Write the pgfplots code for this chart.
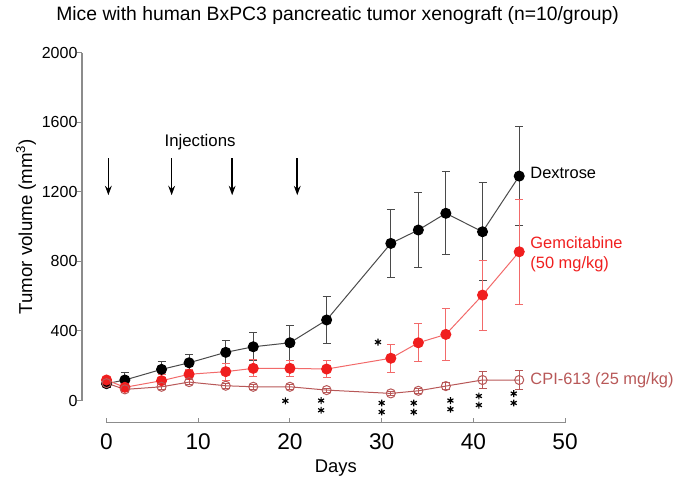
\documentclass[border=0pt]{standalone}
\usepackage{fontspec}
\setmainfont{Liberation Sans}
\usepackage{pgfplots}
\pgfplotsset{compat=1.18}
\usetikzlibrary{arrows.meta}

\definecolor{dexline}{HTML}{4A4A4A}
\definecolor{gemred}{HTML}{F01E1E}
\definecolor{gemline}{HTML}{F26A6A}
\definecolor{cpi}{HTML}{B85858}
\definecolor{spine}{HTML}{8C8C8C}

% day, mean, sem
\pgfplotstableread{
x y e
0 97 20
2 118 42
6 179 48
9 217 48
13 277 67
16 309 81
20 332 100
24 463 134
31 903 196
34 980 217
37 1076 239
41 970 282
45 1290 283
}\dextrose
\pgfplotstableread{
x y e
0 118 15
2 76 15
6 114 33
9 151 30
13 166 48
16 185 48
20 185 44
24 181 48
31 243 80
34 332 109
37 380 150
41 606 201
45 855 301
}\gemcitabine
\pgfplotstableread{
x y e
0 100 12
2 64 12
6 79 15
9 106 15
13 85 15
16 79 15
20 79 15
24 60 12
31 41 12
34 56 14
37 83 22
41 118 48
45 118 53
}\cpi

\begin{document}
\begin{tikzpicture}
\useasboundingbox (-79.9pt,-58.1pt) rectangle (433.1pt,300.4pt);
% detached spines (axis box: 343.9pt x 261pt, origin at 0,0)
\draw[spine, line width=0.8pt] (0,-16.5pt) -- (343.9pt,-16.5pt);
\foreach \i in {0,...,5}
  \draw[spine, line width=0.8pt] (\i*68.78pt,-16.5pt) -- ++(0,3.5pt);
\draw[spine, line width=0.8pt] (-18.4pt,0) -- (-18.4pt,261pt);
\foreach \i in {0,...,5}
  \draw[spine, line width=0.8pt] (-18.4pt,\i*52.2pt) -- ++(-3.5pt,0);
\begin{axis}[
  scale only axis,
  width=343.9pt, height=261pt,
  xmin=0, xmax=50, ymin=0, ymax=2000,
  axis x line*=bottom, axis y line*=left,
  axis line style={draw=none},
  xtick={0,10,...,50}, ytick={0,400,...,2000},
  major tick length=0pt,
  tick style={draw=none},
  /pgf/number format/assume math mode=true,
  /pgf/number format/1000 sep={},
  x tick label style={font=\fontsize{17}{20}\selectfont, yshift=-21pt},
  y tick label style={font=\fontsize{12}{14}\selectfont, xshift=-18.3pt},
  clip=false,
]
% Dextrose
\addplot[dexline, line width=0.75pt, mark=*, mark size=3.75pt,
  mark options={draw=black, fill=black},
  error bars/.cd, y dir=both, y explicit,
  error bar style={dexline, line width=0.75pt},
  error mark options={rotate=90, mark size=3pt, dexline, line width=0.75pt}]
  table[x=x, y=y, y error=e] {\dextrose};
% Gemcitabine
\addplot[gemline, line width=0.75pt, mark=*, mark size=3.75pt,
  mark options={draw=gemred, fill=gemred},
  error bars/.cd, y dir=both, y explicit,
  error bar style={gemline, line width=0.75pt},
  error mark options={rotate=90, mark size=3pt, gemline, line width=0.75pt}]
  table[x=x, y=y, y error=e] {\gemcitabine};
% CPI-613
\addplot[cpi, line width=0.75pt, mark=o, mark size=3.4pt,
  mark options={draw=cpi, fill=none},
  error bars/.cd, y dir=both, y explicit,
  error bar style={cpi, line width=0.75pt},
  error mark options={rotate=90, mark size=3pt, cpi, line width=0.75pt}]
  table[x=x, y=y, y error=e] {\cpi};

% significance stars
\addplot[only marks, mark=asterisk, mark size=2.6pt, black, line width=0.9pt]
  coordinates {
  (19.5,-2) (29.6,336)
  (23.4,0) (23.4,-56)
  (30.0,-14) (30.0,-66)
  (33.5,-14) (33.5,-66)
  (37.5,0) (37.5,-50)
  (40.6,26) (40.6,-26)
  (44.4,40) (44.4,-14)
  };

% injection arrows
\pgfplotsinvokeforeach{0.2,7.1,13.7,20.8}{
  \draw[line width=1.2pt, -{Stealth[length=7pt, width=5pt]}] (axis cs:#1,1393) -- (axis cs:#1,1180);
}
\node[font=\fontsize{12.6}{15}\selectfont] at (axis cs:10.2,1487) {Injections};

\node[anchor=west, font=\fontsize{12.3}{15}\selectfont, inner sep=0pt] at (axis cs:46.2,1306) {Dextrose};
\node[anchor=west, align=left, text=gemred, font=\fontsize{12.3}{15}\selectfont, inner sep=0pt] at (axis cs:46.2,843) {Gemcitabine\\(50 mg/kg)};
\node[anchor=west, text=cpi, font=\fontsize{12.3}{15}\selectfont, inner sep=0pt] at (axis cs:46.2,118) {CPI-613 (25 mg/kg)};

% title and axis labels
\node[font=\fontsize{14.5}{17}\selectfont] at (axis description cs:0.504,1.106) {Mice with human BxPC3 pancreatic tumor xenograft (n=10/group)};
\node[font=\fontsize{13.8}{16}\selectfont, yshift=-51pt] at (axis description cs:0.5,0) {Days};
\node[font=\fontsize{14}{16}\selectfont, rotate=90, yshift=60.4pt] at (axis description cs:0,0.5) {Tumor volume (mm\textsuperscript{3})};
\end{axis}
\end{tikzpicture}
\end{document}
